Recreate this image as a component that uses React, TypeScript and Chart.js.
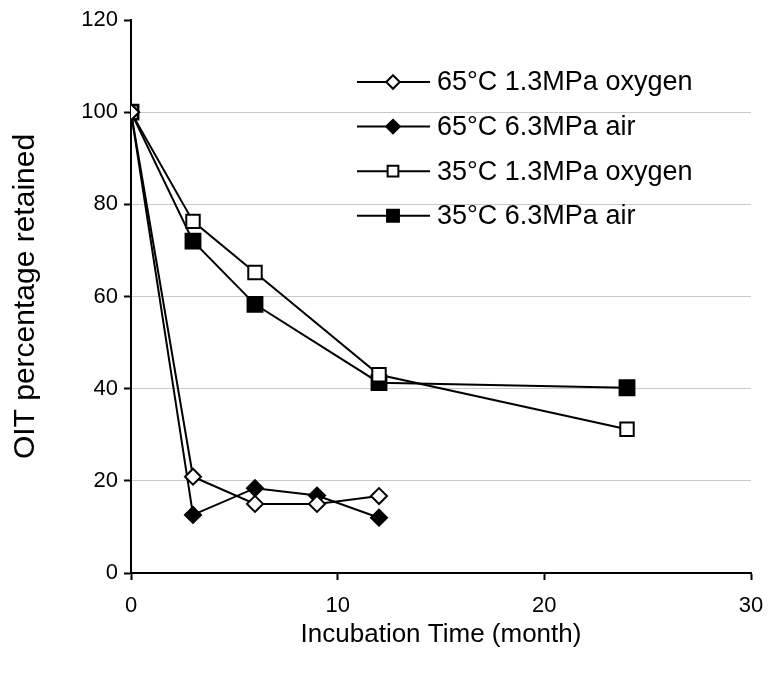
import React, { useEffect, useRef } from "react";
import { Chart, registerables } from "chart.js";

Chart.register(...registerables);

const seriesNames = [
  "65°C 1.3MPa oxygen",
  "65°C 6.3MPa air",
  "35°C 1.3MPa oxygen",
  "35°C 6.3MPa air",
];

const months65 = [0, 3, 6, 9, 12];
const oxygen65 = [100, 20.9, 15.0, 15.0, 16.7];
const air65 = [100, 12.6, 18.4, 16.8, 12.0];

const months35 = [0, 3, 6, 12, 24];
const oxygen35 = [100, 76.3, 65.2, 43.0, 31.2];
const air35 = [100, 72.0, 58.3, 41.3, 40.2];

const xTicks = [0, 10, 20, 30];
const yTicks = [0, 20, 40, 60, 80, 100, 120];

const FONT = "'Liberation Sans', Arial, sans-serif";

const toPts = (xs: number[], ys: number[]) => xs.map((x, i) => ({ x, y: ys[i] }));

function drawMarker(ctx: CanvasRenderingContext2D, style: string, r: number, x: number, y: number) {
  ctx.beginPath();
  if (style === "rect") {
    const s = Math.SQRT1_2 * r;
    ctx.rect(x - s, y - s, 2 * s, 2 * s);
  } else {
    ctx.moveTo(x, y - r);
    ctx.lineTo(x + r, y);
    ctx.lineTo(x, y + r);
    ctx.lineTo(x - r, y);
    ctx.closePath();
  }
  ctx.fill();
  ctx.stroke();
}

const legendPlugin = {
  id: "insideLegend",
  afterDraw(chart: any) {
    const ctx = chart.ctx;
    const rowY0 = 82;
    const rowGap = 44.6;
    const lineX0 = 357;
    const lineX1 = 430;
    const markX = 393;
    const textX = 437;
    ctx.save();
    chart.data.datasets.forEach((ds: any, i: number) => {
      const y = rowY0 + i * rowGap;
      ctx.strokeStyle = "#000";
      ctx.lineWidth = 2;
      ctx.beginPath();
      ctx.moveTo(lineX0, y);
      ctx.lineTo(lineX1, y);
      ctx.stroke();
      ctx.fillStyle = ds.pointBackgroundColor;
      ctx.strokeStyle = "#000";
      ctx.lineWidth = 2;
      const r = ds.pointStyle === "rect" ? ds.pointRadius * 0.8 : ds.pointRadius * 0.85;
      drawMarker(ctx, ds.pointStyle, r, markX, y);
      ctx.fillStyle = "#000";
      ctx.font = `27px ${FONT}`;
      ctx.textBaseline = "middle";
      ctx.textAlign = "left";
      ctx.fillText(ds.label, textX, y + 1);
    });
    ctx.restore();
  },
};

export default function App() {
  const ref = useRef<HTMLCanvasElement | null>(null);

  useEffect(() => {
    document.body.style.margin = "0";
    const canvas = ref.current;
    if (!canvas) return;

    const mk = (label: string, data: any[], style: string, filled: boolean, radius: number) => ({
      label,
      data,
      borderColor: "#000",
      borderWidth: 2,
      pointStyle: style,
      pointRadius: radius,
      pointHoverRadius: radius,
      pointBorderWidth: 2,
      pointBorderColor: "#000",
      pointBackgroundColor: filled ? "#000" : "#fff",
      showLine: true,
      fill: false,
      tension: 0,
    });

    const chart = new Chart(canvas, {
      type: "scatter",
      data: {
        datasets: [
          mk(seriesNames[0], toPts(months65, oxygen65), "rectRot", false, 8),
          mk(seriesNames[1], toPts(months65, air65), "rectRot", true, 8),
          mk(seriesNames[2], toPts(months35, oxygen35), "rect", false, 9.5),
          mk(seriesNames[3], toPts(months35, air35), "rect", true, 10.5),
        ],
      },
      options: {
        responsive: false,
        animation: false,
        events: [],
        layout: { padding: { left: 0, right: 18, top: 20, bottom: 0 } },
        plugins: {
          legend: { display: false },
          tooltip: { enabled: false },
          title: { display: false },
        },
        scales: {
          x: {
            type: "linear",
            min: 0,
            max: 30,
            afterFit: (s: any) => {
              s.height = 114;
              s.paddingLeft = 0;
              s.paddingRight = 0;
            },
            afterBuildTicks: (s: any) => {
              s.ticks = xTicks.map((v) => ({ value: v }));
            },
            border: { display: true, color: "#000", width: 2 },
            grid: {
              drawOnChartArea: false,
              drawTicks: true,
              tickLength: 7,
              tickColor: "#000",
              tickWidth: 2,
            },
            ticks: {
              color: "#000",
              font: { family: FONT, size: 22 },
              padding: 13,
              maxRotation: 0,
            },
            title: {
              display: true,
              text: "Incubation Time (month)",
              color: "#000",
              font: { family: FONT, size: 26 },
              padding: { top: 4, bottom: 37 },
            },
          },
          y: {
            type: "linear",
            min: 0,
            max: 120,
            afterFit: (s: any) => {
              s.width = 131;
              s.paddingTop = 0;
              s.paddingBottom = 0;
            },
            afterBuildTicks: (s: any) => {
              s.ticks = yTicks.map((v) => ({ value: v }));
            },
            border: { display: true, color: "#000", width: 2 },
            grid: {
              color: (c: any) =>
                c.tick && (c.tick.value === 0 || c.tick.value === 120) ? "rgba(0,0,0,0)" : "#c8c8c8",
              lineWidth: 1,
              drawTicks: true,
              tickLength: 7,
              tickColor: "#000",
              tickWidth: 2,
            },
            ticks: {
              color: "#000",
              font: { family: FONT, size: 22 },
              padding: 6,
            },
            title: {
              display: true,
              text: "OIT percentage retained",
              color: "#000",
              font: { family: FONT, size: 30 },
              padding: { top: 8, bottom: 10 },
            },
          },
        },
      } as any,
      plugins: [legendPlugin],
    });

    return () => chart.destroy();
  }, []);

  return (
    <div style={{ width: 769, height: 687 }}>
      <canvas ref={ref} width={769} height={687} style={{ display: "block" }} />
    </div>
  );
}
